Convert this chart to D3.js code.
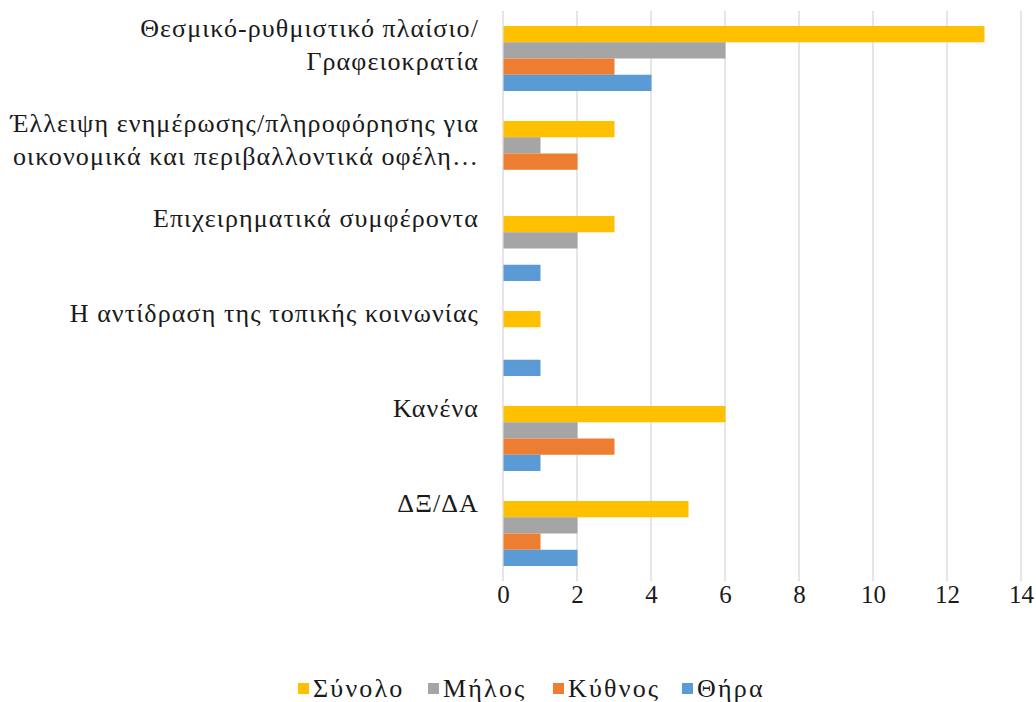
<!DOCTYPE html>
<html>
<head>
<meta charset="utf-8">
<script src="https://cdn.jsdelivr.net/npm/d3@7"></script>
<style>
  body { margin: 0; background: #fff; }
  text { font-family: "Liberation Serif", "DejaVu Serif", serif; fill: #1a1a1a; }
</style>
</head>
<body>
<script>
const categories = [
  ['Θεσμικό-ρυθμιστικό πλαίσιο/', 'Γραφειοκρατία'],
  ['Έλλειψη ενημέρωσης/πληροφόρησης για', 'οικονομικά και περιβαλλοντικά οφέλη…'],
  ['Επιχειρηματικά συμφέροντα'],
  ['Η αντίδραση της τοπικής κοινωνίας'],
  ['Κανένα'],
  ['ΔΞ/ΔΑ']
]
const seriesNames = ['Σύνολο', 'Μήλος', 'Κύθνος', 'Θήρα']
const synolo = [13, 3, 3, 1, 6, 5]
const milos = [6, 1, 2, 0, 2, 2]
const kythnos = [3, 2, 0, 0, 3, 1]
const thira = [4, 0, 1, 1, 1, 2]
const xTicks = [0, 2, 4, 6, 8, 10, 12, 14]
const colors = ['#FFC000', '#A5A5A5', '#ED7D31', '#5B9BD5']

const series = [synolo, milos, kythnos, thira]
const width = 1036
const height = 702
const margin = {top: 11, right: 15, bottom: 122, left: 503}

const svg = d3.select('body').append('svg')
  .attr('width', width)
  .attr('height', height)

const x = d3.scaleLinear().domain([0, 14]).range([margin.left, margin.left + 518])
const y = d3.scaleBand().domain(d3.range(categories.length))
  .range([margin.top, height - margin.bottom + 1])
  .paddingInner(0.316).paddingOuter(0.158)
const ySub = d3.scaleBand().domain(d3.range(series.length)).range([0, y.bandwidth()])

// gridlines
svg.append('g')
  .selectAll('line')
  .data(xTicks)
  .enter().append('line')
  .attr('x1', d => x(d)).attr('x2', d => x(d))
  .attr('y1', margin.top).attr('y2', height - margin.bottom + 1)
  .attr('stroke', '#D9D9D9')
  .attr('stroke-width', 1.3)

// bars
series.forEach((values, s) => {
  svg.append('g')
    .selectAll('rect')
    .data(values)
    .enter().append('rect')
    .attr('x', x(0) + 0.5)
    .attr('y', (d, i) => y(i) + ySub(s))
    .attr('width', d => Math.max(0, x(d) - x(0)))
    .attr('height', ySub.bandwidth())
    .attr('fill', colors[s])
})

// x axis labels
const xAxis = svg.append('g')
  .attr('transform', 'translate(0,' + (height - margin.bottom + 1) + ')')
  .call(d3.axisBottom(x).tickValues(xTicks).tickSize(0).tickPadding(4))
xAxis.select('.domain').remove()
xAxis.selectAll('text')
  .style('font-family', '"Liberation Serif", serif')
  .style('font-size', '25px')
  .attr('fill', '#1a1a1a')

// category labels
const labels = svg.append('g')
  .selectAll('text')
  .data(categories)
  .enter().append('text')
  .attr('text-anchor', 'end')
  .style('font-size', '26px')
  .style('letter-spacing', '1.1px')
labels.each(function (lines, i) {
  const top = y(i)
  d3.select(this).selectAll('tspan')
    .data(lines)
    .enter().append('tspan')
    .attr('x', 479)
    .attr('y', (d, j) => top + 11 + j * 33)
    .text(d => d)
})

// legend
const legendX = [298, 428, 553, 682]
const legend = svg.append('g')
  .selectAll('g')
  .data(seriesNames)
  .enter().append('g')
  .attr('transform', (d, i) => 'translate(' + legendX[i] + ',688)')
legend.append('rect')
  .attr('x', 0).attr('y', -5)
  .attr('width', 11).attr('height', 11)
  .attr('fill', (d, i) => colors[i])
legend.append('text')
  .attr('x', 15).attr('y', 9)
  .style('font-size', '26px')
  .style('letter-spacing', '2.2px')
  .text(d => d)
</script>
</body>
</html>
